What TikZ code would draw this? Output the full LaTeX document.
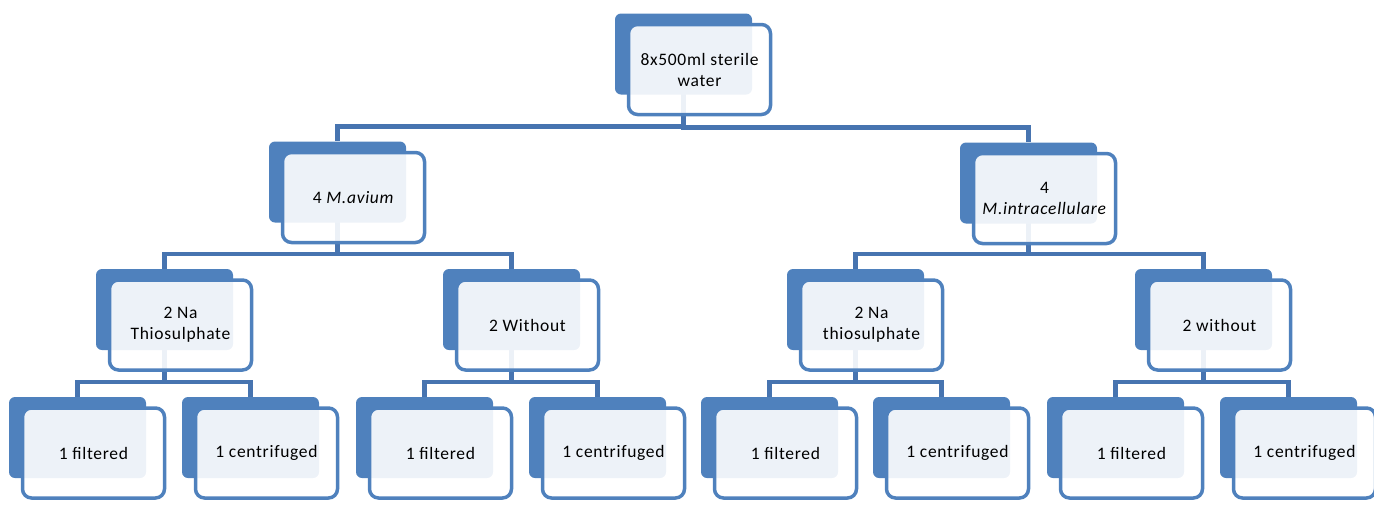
\documentclass[tikz,border=0pt]{standalone}
\usepackage{fontspec}
\setmainfont{Carlito}[LetterSpace=4]
\usepackage{tikz}
\usetikzlibrary{positioning,backgrounds}
\definecolor{boxblue}{HTML}{4F81BD}
\definecolor{linkblue}{HTML}{4774B0}

\begin{document}
\begin{tikzpicture}[
    x=1pt, y=-1pt,
    backbox/.style={fill=boxblue, rounded corners=6pt, minimum width=137pt, minimum height=81pt,
                    inner sep=0pt},
    frontbox/.style={draw=boxblue, line width=3.5pt, fill=white, fill opacity=0.9, text opacity=1,
                     rounded corners=9pt, minimum width=142pt, minimum height=90pt,
                     align=center, font=\fontsize{17.5}{21}\selectfont, inner sep=2pt},
    conn/.style={linkblue, line width=4.5pt}
]
\useasboundingbox (0,0) rectangle (1374,504);

% Back boxes
\node[backbox] (top-b)  at (683.5,54)  {};
\node[backbox] (mav-b)  at (337.5,182) {};
\node[backbox] (mint-b) at (1028.5,183) {};
\node[backbox] (avna-b) at (164.5,309.5) {};
\node[backbox] (avwo-b) at (511.5,309.5) {};
\node[backbox] (inna-b) at (855.5,309.5) {};
\node[backbox] (inwo-b) at (1203.5,309.5) {};
\node[backbox] (f1-b) at (77.5,437.5)   {};
\node[backbox] (c1-b) at (250.5,437.5)  {};
\node[backbox] (f2-b) at (424.5,437.5)  {};
\node[backbox] (c2-b) at (597.5,437.5)  {};
\node[backbox] (f3-b) at (769.5,437.5)  {};
\node[backbox] (c3-b) at (941.5,437.5)  {};
\node[backbox] (f4-b) at (1115.5,437.5) {};
\node[backbox] (c4-b) at (1288.5,437.5) {};

% Front boxes with the texts
\node[frontbox] (top)  at ([xshift=16pt,yshift=-15.5pt]top-b)  {8x500ml sterile\\water};
\node[frontbox] (mav)  at ([xshift=16pt,yshift=-15.5pt]mav-b)  {4 \textit{M.avium}};
\node[frontbox] (mint) at ([xshift=16pt,yshift=-15.5pt]mint-b) {4\\\textit{M.intracellulare}};
\node[frontbox] (avna) at ([xshift=16pt,yshift=-15.5pt]avna-b) {2 Na\\Thiosulphate};
\node[frontbox] (avwo) at ([xshift=16pt,yshift=-15.5pt]avwo-b) {2 Without};
\node[frontbox] (inna) at ([xshift=16pt,yshift=-15.5pt]inna-b) {2 Na\\thiosulphate};
\node[frontbox] (inwo) at ([xshift=16pt,yshift=-15.5pt]inwo-b) {2 without};
\node[frontbox] (f1) at ([xshift=16pt,yshift=-15.5pt]f1-b) {1 filtered};
\node[frontbox] (c1) at ([xshift=16pt,yshift=-15.5pt]c1-b) {1 centrifuged};
\node[frontbox] (f2) at ([xshift=16pt,yshift=-15.5pt]f2-b) {1 filtered};
\node[frontbox] (c2) at ([xshift=16pt,yshift=-15.5pt]c2-b) {1 centrifuged};
\node[frontbox] (f3) at ([xshift=16pt,yshift=-15.5pt]f3-b) {1 filtered};
\node[frontbox] (c3) at ([xshift=16pt,yshift=-15.5pt]c3-b) {1 centrifuged};
\node[frontbox] (f4) at ([xshift=16pt,yshift=-15.5pt]f4-b) {1 filtered};
\node[frontbox] (c4) at ([xshift=16pt,yshift=-15.5pt]c4-b) {1 centrifuged};

% Connectors (behind the boxes)
\begin{scope}[on background layer]
\draw[conn] (top-b.center) |- ([yshift=15pt]mav-b.north) -- (mav-b.north);
\draw[conn] (top-b.center) |- ([yshift=15pt]mint-b.north) -- (mint-b.north);
\draw[conn] (mav-b.center) |- ([yshift=15pt]avna-b.north) -- (avna-b.north);
\draw[conn] (mav-b.center) |- ([yshift=15pt]avwo-b.north) -- (avwo-b.north);
\draw[conn] (mint-b.center) |- ([yshift=15pt]inna-b.north) -- (inna-b.north);
\draw[conn] (mint-b.center) |- ([yshift=15pt]inwo-b.north) -- (inwo-b.north);
\draw[conn] (avna-b.center) |- ([yshift=15pt]f1-b.north) -- (f1-b.north);
\draw[conn] (avna-b.center) |- ([yshift=15pt]c1-b.north) -- (c1-b.north);
\draw[conn] (avwo-b.center) |- ([yshift=15pt]f2-b.north) -- (f2-b.north);
\draw[conn] (avwo-b.center) |- ([yshift=15pt]c2-b.north) -- (c2-b.north);
\draw[conn] (inna-b.center) |- ([yshift=15pt]f3-b.north) -- (f3-b.north);
\draw[conn] (inna-b.center) |- ([yshift=15pt]c3-b.north) -- (c3-b.north);
\draw[conn] (inwo-b.center) |- ([yshift=15pt]f4-b.north) -- (f4-b.north);
\draw[conn] (inwo-b.center) |- ([yshift=15pt]c4-b.north) -- (c4-b.north);
\end{scope}

\end{tikzpicture}
\end{document}
